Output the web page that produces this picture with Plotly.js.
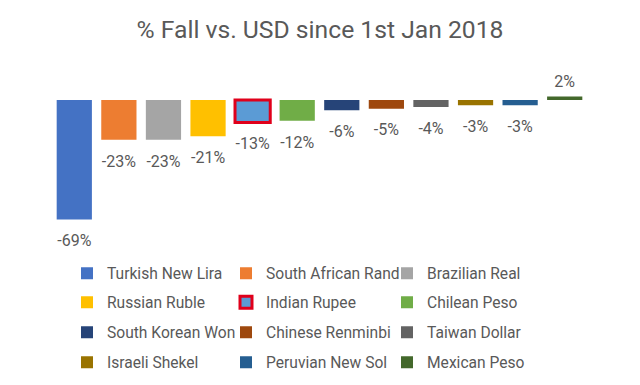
<!DOCTYPE html>
<html><head><meta charset="utf-8">
<script src="https://cdn.plot.ly/plotly-3.0.1.min.js"></script>
<style>body{margin:0;background:#fff}</style>
</head><body><div id="chart" style="width:640px;height:385px"></div>
<script>
const currencies = ["Turkish New Lira","South African Rand","Brazilian Real","Russian Ruble","Indian Rupee","Chilean Peso","South Korean Won","Chinese Renminbi","Taiwan Dollar","Israeli Shekel","Peruvian New Sol","Mexican Peso"];
const fallPct = [-69,-23,-23,-21,-13,-12,-6,-5,-4,-3,-3,2];
const colors = ["#4472c4","#ed7d31","#a5a5a5","#ffc000","#5b9bd5","#70ad47","#264478","#9e480e","#636363","#997300","#255e91","#43682b"];
const highlighted = "Indian Rupee";

const W = 640, H = 385;
const M = {l:52, r:53, t:60, b:145, autoexpand:false};
const PW = W - M.l - M.r, PH = H - M.t - M.b;
const colTextX = [107, 266, 427];
const rowTops = [256.5, 285.5, 315.5, 345.5];

const barTraces = currencies.map((c,i)=>({
  type:'bar', name:c, x:[c], y:[fallPct[i]],
  legend: i===0 ? 'legend' : 'legend'+(i+1),
  marker:{color:colors[i], line:{color: c===highlighted ? '#e0001b' : colors[i], width: c===highlighted ? 3 : 0}},
  width:0.79,
  hoverinfo:'skip'
}));
const labelTrace = {
  type:'scatter', mode:'markers+text', x:currencies, y:fallPct, showlegend:false,
  marker:{size:fallPct.map(v=> v<0 ? 22 : 8), color:'rgba(0,0,0,0)', opacity:0, line:{width:0}},
  text:fallPct.map(v=>v+'%'),
  textposition:fallPct.map(v=> v<0 ? 'bottom center' : 'top center'),
  textfont:{family:'Roboto, sans-serif', size:16, color:'#595959'},
  cliponaxis:false, hoverinfo:'skip'
};

const layout = {
  width:W, height:H,
  margin:M,
  paper_bgcolor:'#fff', plot_bgcolor:'#fff',
  barmode:'overlay',
  title:{text:'% Fall vs. USD since 1st Jan 2018', x:0.5, xanchor:'center', y:1-29/H, yanchor:'middle',
    font:{family:'Roboto, sans-serif', size:24.7, color:'#595959'}},
  xaxis:{type:'category', categoryarray:currencies, range:[-0.5, 11.5], showticklabels:false, showgrid:false, zeroline:false, showline:false, ticks:''},
  yaxis:{range:[-80.9,23.1], visible:false, showgrid:false, zeroline:false},
  showlegend:true
};
currencies.forEach((c,i)=>{
  const ln = i===0 ? 'legend' : 'legend'+(i+1);
  layout[ln] = {orientation:'v', x:(colTextX[i%3]-40-M.l)/PW, xanchor:'left',
    y:(M.t+PH-rowTops[Math.floor(i/3)])/PH, yanchor:'top',
    font:{family:'Roboto, sans-serif', size:15.6, color:'#595959'}, itemclick:false, bgcolor:'rgba(0,0,0,0)'};
});

Plotly.newPlot('chart', barTraces.concat([labelTrace]), layout, {displayModeBar:false, staticPlot:true});
</script></body></html>
